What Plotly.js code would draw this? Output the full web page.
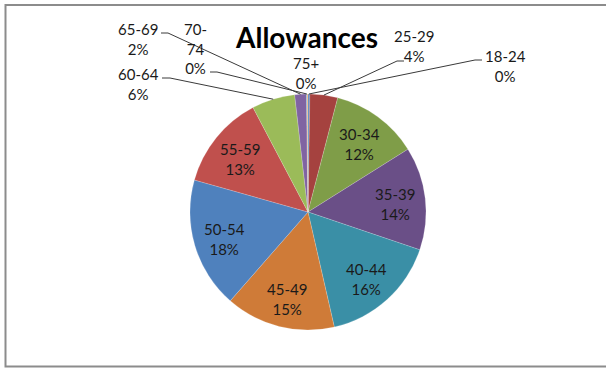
<!DOCTYPE html>
<html>
<head>
<meta charset="utf-8">
<script src="https://cdn.plot.ly/plotly-3.0.1.min.js"></script>
<style>html,body{margin:0;padding:0;background:#fff;}#chart{width:606px;height:368px;}</style>
</head>
<body>
<div id="chart"></div>
<script>
// ---- data ----
const categories = ['18-24','25-29','30-34','35-39','40-44','45-49','50-54','55-59','60-64','65-69','70-74','75+'];
const shares = [0.25, 3.8, 12.0, 14.1, 16.2, 15.0, 17.9, 12.9, 5.9, 1.6, 0.1, 0.1];
const sliceColors = ['#4A7EBB','#A5423F','#7F9D48','#6A4F87','#3A8FA6','#CF7B38','#4F81BD','#C0504D','#9BBB59','#8064A2','#4BACC6','#F79646'];
const chartTitle = 'Allowances';

// ---- layout helpers (pixel -> paper) ----
const W = 606, H = 368;
const px = x => x / W;
const py = y => 1 - y / H;
const cx = 308, cy = 212, R = 118;
const FONT = 'Lato, "Open Sans", sans-serif';

const total = shares.reduce((a, b) => a + b, 0);
const pct = shares.map(v => Math.round(v / total * 100));
let cum = 0;
const midAngle = shares.map(v => { const m = (cum + v / 2) / total * 2 * Math.PI; cum += v; return m; });
const arcPoint = (i, k) => [cx + R * k * Math.sin(midAngle[i]), cy - R * k * Math.cos(midAngle[i])];

const annotations = [];
const shapes = [];

// inside labels
const insideIdx = [2,3,4,5,6,7];
insideIdx.forEach(i => {
  const [x, y] = arcPoint(i, 0.74);
  annotations.push({xref:'paper', yref:'paper', x: px(x), y: py(y + 2), xanchor:'center', yanchor:'middle',
    text: categories[i] + '<br>' + pct[i] + '%', showarrow:false, font:{family:FONT, size:15, color:'#1a1a1a'}});
});

// outside labels with leader lines (positions are layout)
const outside = [
  {i:0,  tx:505, ty:66, wrap:false, line:[[482,60],[475,60]]},
  {i:1,  tx:414, ty:46, wrap:false, line:[[404,61],[397,61]]},
  {i:11, tx:306, ty:73, wrap:false, line:null},
  {i:10, tx:195, ty:49, wrap:true,  line:[[210,72],[217,72]]},
  {i:9,  tx:138, ty:39, wrap:false, line:[[161,33],[168,33]]},
  {i:8,  tx:138, ty:84, wrap:false, line:[[162,78],[170,78]]}
];
outside.forEach(o => {
  const lab = o.wrap ? categories[o.i].replace('-', '-<br>') : categories[o.i];
  annotations.push({xref:'paper', yref:'paper', x: px(o.tx), y: py(o.ty), xanchor:'center', yanchor:'middle',
    text: lab + '<br>' + pct[o.i] + '%', showarrow:false, font:{family:FONT, size:15, color:'#1a1a1a'}});
  if (o.line) {
    const [ex, ey] = arcPoint(o.i, 1.0);
    const path = `M${px(o.line[0][0])},${py(o.line[0][1])} L${px(o.line[1][0])},${py(o.line[1][1])} L${px(ex)},${py(ey)}`;
    shapes.push({type:'path', xref:'paper', yref:'paper', path: path, line:{color:'#3a3a3a', width:1}, layer:'above'});
  }
});

// chart border
shapes.push({type:'rect', xref:'paper', yref:'paper', x0: px(5.5), x1: px(612), y0: py(5), y1: py(366.5),
  line:{color:'#8c8c8c', width:2}, fillcolor:'rgba(0,0,0,0)', layer:'below'});

const trace = {
  type:'pie',
  labels: categories,
  values: shares,
  sort:false,
  direction:'clockwise',
  rotation:0,
  textinfo:'none',
  hoverinfo:'label+percent',
  marker:{colors: sliceColors, line:{color:'rgba(255,255,255,0.35)', width:0.5}},
  domain:{x:[px(cx - R), px(cx + R)], y:[py(cy + R), py(cy - R)]},
  showlegend:false
};

const layout = {
  width: W, height: H,
  margin:{l:0, r:0, t:0, b:0},
  paper_bgcolor:'#ffffff',
  title:{text: chartTitle, x: px(307), y: py(38), xanchor:'center', yanchor:'middle', xref:'paper', yref:'paper',
    font:{family:FONT, size:28, weight:700, color:'#000000'}},
  annotations: annotations,
  shapes: shapes,
  showlegend:false
};

Plotly.newPlot('chart', [trace], layout, {displayModeBar:false, staticPlot:true});
</script>
</body>
</html>
